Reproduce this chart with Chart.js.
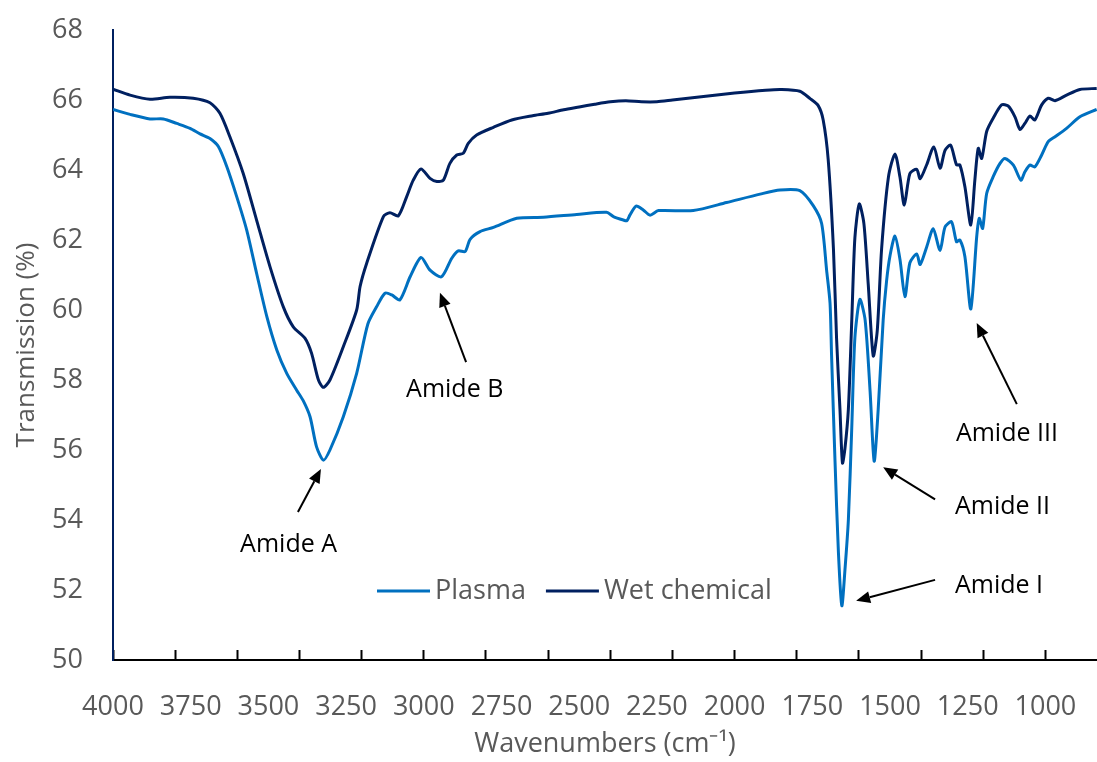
<!DOCTYPE html>
<html lang="en">
<head>
<meta charset="UTF-8">
<title>FTIR spectra</title>
<script src="https://cdn.jsdelivr.net/npm/chart.js"></script>
<style>
  body { margin: 0; background: #fff; }
  #wrap { width: 1097px; height: 762px; }
</style>
</head>
<body>
<div id="wrap"><canvas id="ftir" width="1097" height="762"></canvas></div>
<script>
// wavenumber (cm-1) / transmission (%) pairs
const plasmaWn = [4000, 3945, 3881, 3838, 3795, 3752, 3720, 3688, 3661, 3634, 3602, 3570, 3538, 3505, 3473, 3441, 3409, 3388, 3366, 3345, 3323, 3302, 3259, 3216, 3180, 3152, 3125, 3103, 3077, 3044, 3009, 2980, 2943, 2910, 2889, 2867, 2851, 2819, 2776, 2701, 2615, 2508, 2412, 2390, 2358, 2347, 2337, 2317, 2294, 2272, 2245, 2133, 2026, 1918, 1854, 1790, 1747, 1720, 1704, 1693, 1688, 1677, 1666, 1655, 1645, 1634, 1623, 1613, 1597, 1580, 1564, 1551, 1538, 1522, 1511, 1500, 1484, 1468, 1452, 1436, 1414, 1403, 1382, 1361, 1339, 1323, 1302, 1286, 1275, 1259, 1240, 1221, 1213, 1202, 1189, 1168, 1146, 1130, 1103, 1079, 1066, 1050, 1034, 1012, 991, 969, 932, 889, 835];
const plasmaT = [65.73, 65.59, 65.46, 65.46, 65.33, 65.19, 65.03, 64.90, 64.67, 64.10, 63.24, 62.29, 61.05, 59.81, 58.86, 58.19, 57.71, 57.41, 56.95, 56.09, 55.71, 56.00, 56.95, 58.19, 59.60, 60.09, 60.48, 60.43, 60.29, 60.95, 61.50, 61.14, 60.95, 61.48, 61.69, 61.67, 62.02, 62.24, 62.36, 62.62, 62.65, 62.73, 62.79, 62.67, 62.57, 62.55, 62.71, 62.97, 62.86, 62.71, 62.84, 62.84, 63.07, 63.31, 63.43, 63.41, 62.98, 62.47, 61.14, 60.20, 58.70, 55.70, 53.08, 51.55, 52.57, 54.00, 56.65, 59.20, 60.30, 59.71, 57.67, 55.68, 57.16, 59.71, 60.83, 61.55, 62.11, 61.45, 60.38, 61.35, 61.60, 61.30, 61.80, 62.32, 61.70, 62.37, 62.52, 61.95, 62.00, 61.52, 60.03, 62.10, 62.62, 62.33, 63.33, 63.81, 64.19, 64.33, 64.14, 63.71, 63.95, 64.14, 64.09, 64.43, 64.81, 64.95, 65.19, 65.52, 65.73];

const wetWn = [4000, 3945, 3881, 3817, 3742, 3688, 3656, 3624, 3581, 3538, 3495, 3452, 3420, 3382, 3361, 3339, 3323, 3302, 3259, 3216, 3205, 3184, 3130, 3109, 3082, 3055, 3034, 3009, 2980, 2958, 2937, 2916, 2894, 2873, 2857, 2830, 2776, 2717, 2650, 2600, 2550, 2500, 2450, 2400, 2350, 2300, 2250, 2200, 2100, 2000, 1900, 1850, 1790, 1757, 1731, 1715, 1699, 1682, 1672, 1661, 1653, 1645, 1634, 1623, 1613, 1599, 1584, 1570, 1554, 1541, 1527, 1505, 1484, 1468, 1454, 1436, 1414, 1403, 1382, 1359, 1339, 1323, 1305, 1286, 1275, 1259, 1240, 1227, 1216, 1205, 1189, 1168, 1141, 1120, 1098, 1082, 1066, 1050, 1034, 1012, 991, 969, 932, 889, 835];
const wetT = [66.31, 66.14, 66.02, 66.08, 66.05, 65.92, 65.62, 64.95, 63.90, 62.57, 61.24, 60.09, 59.52, 59.19, 58.76, 58.00, 57.79, 58.00, 58.95, 60.00, 60.67, 61.33, 62.67, 62.78, 62.69, 63.24, 63.71, 64.03, 63.76, 63.67, 63.71, 64.19, 64.43, 64.48, 64.76, 65.00, 65.22, 65.43, 65.55, 65.62, 65.72, 65.80, 65.88, 65.95, 65.98, 65.95, 65.95, 66.00, 66.10, 66.20, 66.28, 66.30, 66.25, 66.04, 65.84, 65.43, 64.31, 61.75, 59.20, 57.16, 55.63, 56.04, 57.16, 59.71, 62.06, 63.03, 62.47, 60.73, 58.69, 59.41, 61.75, 63.80, 64.46, 63.80, 63.00, 63.90, 64.02, 63.75, 64.15, 64.66, 64.05, 64.56, 64.71, 64.15, 64.14, 63.52, 62.43, 63.71, 64.62, 64.33, 65.10, 65.48, 65.86, 65.83, 65.52, 65.16, 65.33, 65.54, 65.43, 65.86, 66.05, 65.98, 66.14, 66.30, 66.33];

// axis labels every 250, tick marks every 200
const xTickLabels = [4000, 3750, 3500, 3250, 3000, 2750, 2500, 2250, 2000, 1750, 1500, 1250, 1000];
const xTickMarks = [4000, 3800, 3600, 3400, 3200, 3000, 2800, 2600, 2400, 2200, 2000, 1800, 1600, 1400, 1200, 1000];

const bandNames = ['Amide A', 'Amide B', 'Amide III', 'Amide II', 'Amide I'];

// label anchor and arrow (tail -> head) in axis units
const bandNotes = [
  { text: [3591, 53.29], tail: [3405, 54.23], head: [3331, 55.46] },
  { text: [3057, 57.71], tail: [2864, 58.51], head: [2948, 60.49] },
  { text: [1288, 56.47], tail: [1092, 57.31], head: [1221, 59.63] },
  { text: [1291, 54.38], tail: [1355, 54.59], head: [1522, 55.51] },
  { text: [1291, 52.12], tail: [1355, 52.29], head: [1609, 51.69] }
];

const toPoints = (wn, t) => wn.map((x, i) => ({ x: x, y: t[i] }));
const grey = '#595959';
const font = 'Open Sans';

const bandArrows = {
  id: 'bandArrows',
  afterDatasetsDraw(chart) {
    const { ctx, scales: { x, y } } = chart;
    ctx.save();
    ctx.fillStyle = '#000';
    ctx.strokeStyle = '#000';
    ctx.lineWidth = 2;
    ctx.font = '25px "' + font + '"';
    ctx.textBaseline = 'middle';
    bandNotes.forEach((n, i) => {
      ctx.fillText(bandNames[i], x.getPixelForValue(n.text[0]), y.getPixelForValue(n.text[1]));
      const x0 = x.getPixelForValue(n.tail[0]), y0 = y.getPixelForValue(n.tail[1]);
      const x1 = x.getPixelForValue(n.head[0]), y1 = y.getPixelForValue(n.head[1]);
      const a = Math.atan2(y1 - y0, x1 - x0);
      const len = 14, half = 6;
      const bx = x1 - len * Math.cos(a), by = y1 - len * Math.sin(a);
      ctx.beginPath();
      ctx.moveTo(x0, y0);
      ctx.lineTo(bx, by);
      ctx.stroke();
      ctx.beginPath();
      ctx.moveTo(x1, y1);
      ctx.lineTo(bx + half * Math.sin(a), by - half * Math.cos(a));
      ctx.lineTo(bx - half * Math.sin(a), by + half * Math.cos(a));
      ctx.closePath();
      ctx.fill();
    });
    ctx.restore();
  }
};

// one-row legend sitting low inside the plot
const innerLegend = {
  id: 'innerLegend',
  afterDatasetsDraw(chart) {
    const { ctx, scales: { y } } = chart;
    const cy = y.getPixelForValue(51.97);
    let cx = 377;
    ctx.save();
    ctx.font = '27px "' + font + '"';
    ctx.textBaseline = 'middle';
    chart.data.datasets.forEach(ds => {
      ctx.strokeStyle = ds.borderColor;
      ctx.lineWidth = ds.borderWidth;
      ctx.beginPath();
      ctx.moveTo(cx, cy);
      ctx.lineTo(cx + 53, cy);
      ctx.stroke();
      ctx.fillStyle = grey;
      ctx.fillText(ds.label, cx + 58, cy);
      cx += 58 + ctx.measureText(ds.label).width + 20;
    });
    ctx.restore();
  }
};

new Chart(document.getElementById('ftir'), {
  type: 'line',
  data: {
    datasets: [
      {
        label: 'Plasma',
        data: toPoints(plasmaWn, plasmaT),
        borderColor: '#0070C0',
        backgroundColor: '#0070C0',
        borderWidth: 3,
        pointRadius: 0,
        tension: 0.25
      },
      {
        label: 'Wet chemical',
        data: toPoints(wetWn, wetT),
        borderColor: '#002060',
        backgroundColor: '#002060',
        borderWidth: 3,
        pointRadius: 0,
        tension: 0.25
      }
    ]
  },
  options: {
    responsive: false,
    animation: false,
    layout: { padding: { top: 30, right: 0, bottom: 0, left: 0 } },
    plugins: {
      legend: { display: false },
      tooltip: { enabled: false }
    },
    scales: {
      x: {
        type: 'linear',
        reverse: true,
        min: 834,
        max: 4000,
        afterBuildTicks(scale) {
          const vals = Array.from(new Set(xTickLabels.concat(xTickMarks))).sort((a, b) => b - a);
          scale.ticks = vals.map(v => ({ value: v }));
        },
        afterFit(scale) {
          scale.height = 102;
          scale.paddingLeft = 0;
          scale.paddingRight = 0;
        },
        ticks: {
          autoSkip: false,
          maxRotation: 0,
          padding: 41,
          color: grey,
          font: { family: font, size: 27 },
          callback: v => xTickLabels.includes(v) ? String(v) : ''
        },
        grid: {
          drawOnChartArea: false,
          tickLength: -10,
          tickWidth: 2,
          tickColor: ctx => xTickMarks.includes(ctx.tick.value) ? '#000' : 'rgba(0,0,0,0)'
        },
        border: { color: '#000', width: 2 },
        title: {
          display: true,
          text: 'Wavenumbers (cm⁻¹)',
          color: grey,
          font: { family: font, size: 27 },
          padding: { top: 0, bottom: 1 }
        }
      },
      y: {
        min: 50,
        max: 68,
        afterFit(scale) {
          scale.width = 113;
          scale.paddingTop = 0;
          scale.paddingBottom = 0;
        },
        ticks: {
          stepSize: 2,
          padding: 30,
          color: grey,
          font: { family: font, size: 27 }
        },
        grid: { display: false, drawTicks: false },
        border: { color: '#002060', width: 2 },
        title: {
          display: true,
          text: 'Transmission (%)',
          color: grey,
          font: { family: font, size: 26 },
          padding: { top: 11, bottom: 0 }
        }
      }
    }
  },
  plugins: [bandArrows, innerLegend]
});
</script>
</body>
</html>
